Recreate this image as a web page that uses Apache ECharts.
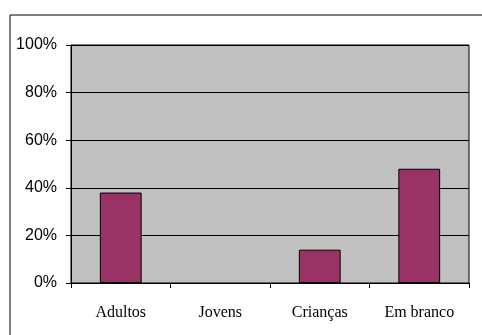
<!DOCTYPE html>
<html>
<head>
<meta charset="utf-8">
<script src="https://cdn.jsdelivr.net/npm/echarts@6/dist/echarts.min.js"></script>
<style>
  html, body { margin: 0; padding: 0; background: #fff; }
  #chart { width: 482px; height: 335px; }
</style>
</head>
<body>
<div id="chart"></div>
<script>
// categorias e valores (%)
var categories = ['Adultos', 'Jovens', 'Crianças', 'Em branco'];
var values = [38, 0, 14, 48];
var yTicks = [0, 20, 40, 60, 80, 100];

var chart = echarts.init(document.getElementById('chart'));
chart.setOption({
    animation: false,
    backgroundColor: '#fff',
    graphic: [
        {
            type: 'rect',
            shape: { x: 10, y: 15, width: 500, height: 340 },
            style: { fill: 'none', stroke: '#000', lineWidth: 1 },
            z: 0
        }
    ],
    grid: {
        left: 71, right: 13, top: 45, bottom: 52,
        show: true,
        backgroundColor: '#c0c0c0',
        borderColor: '#000',
        borderWidth: 1
    },
    xAxis: {
        type: 'category',
        data: categories,
        axisLine: { lineStyle: { color: '#000', width: 1 } },
        axisTick: { show: true, alignWithLabel: false, length: 5, lineStyle: { color: '#000' } },
        axisLabel: {
            color: '#000',
            fontFamily: 'Liberation Serif',
            fontSize: 16,
            margin: 22
        }
    },
    yAxis: {
        type: 'value',
        min: yTicks[0],
        max: yTicks[yTicks.length - 1],
        interval: 20,
        axisLine: { show: true, lineStyle: { color: '#000', width: 1 } },
        axisTick: { show: true, length: 5, lineStyle: { color: '#000' } },
        splitLine: { show: true, lineStyle: { color: '#000', width: 1 } },
        axisLabel: {
            color: '#000',
            fontFamily: 'Liberation Sans',
            fontSize: 16,
            margin: 14,
            formatter: '{value}%'
        }
    },
    series: [
        {
            type: 'bar',
            data: values.map(function (v) {
                // barra de valor zero não aparece no original
                return v === 0 ? { value: v, itemStyle: { borderWidth: 0 } } : v;
            }),
            barWidth: '42%',
            itemStyle: { color: '#993366', borderColor: '#000', borderWidth: 1 }
        }
    ]
});
</script>
</body>
</html>
